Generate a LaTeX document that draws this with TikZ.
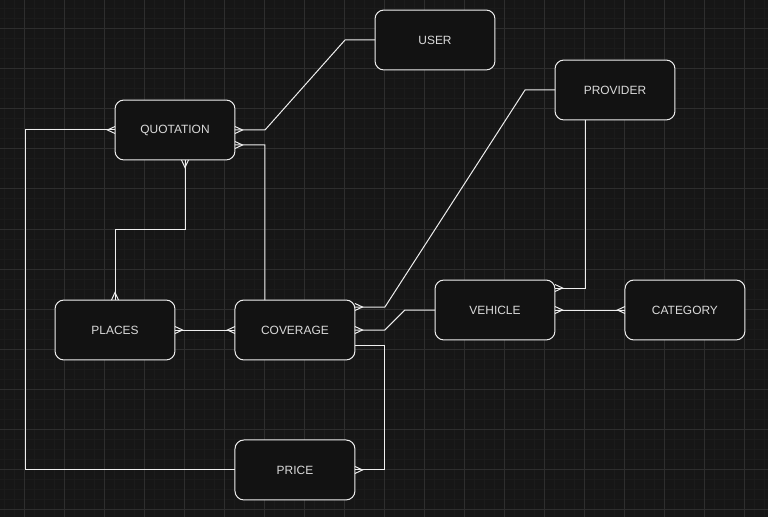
\documentclass[tikz,border=0pt]{standalone}
\usepackage{fontspec}
\setmainfont{Liberation Sans}
\usetikzlibrary{positioning, calc, arrows.meta}
\definecolor{canvas}{RGB}{22,22,22}
\definecolor{minorcol}{RGB}{27,27,27}
\definecolor{majorcol}{RGB}{46,46,46}
\definecolor{boxfill}{RGB}{18,18,18}
\definecolor{boxline}{RGB}{238,238,238}
\definecolor{boxtext}{RGB}{218,218,218}
% crow's foot for the "many" side of a relation
\pgfdeclarearrow{
  name = crow,
  setup code = {
    \pgfarrowssettipend{0pt}
    \pgfarrowssetlineend{0pt}
    \pgfarrowssetbackend{-\pgfarrowlength}
    \pgfarrowssetvisualbackend{-\pgfarrowlength}
    \pgfarrowssavethe\pgfarrowlength
    \pgfarrowssavethe\pgfarrowwidth
  },
  drawing code = {
    \pgfpathmoveto{\pgfqpoint{0pt}{.5\pgfarrowwidth}}
    \pgfpathlineto{\pgfqpoint{-\pgfarrowlength}{0pt}}
    \pgfpathlineto{\pgfqpoint{0pt}{-.5\pgfarrowwidth}}
    \pgfusepathqstroke
  },
  parameters = {\the\pgfarrowlength,\the\pgfarrowwidth},
  defaults = {length=4.3pt, width=4pt}
}
\tikzset{
entity/.style={rectangle, rounded corners=0.18cm, draw=boxline, fill=boxfill, line width=0.02cm, minimum width=2.4cm, minimum height=1.2cm, inner sep=0pt, outer sep=0pt, text=boxtext, font=\fontsize{6.8}{8}\selectfont}, % one table
link/.style={draw=boxline, line width=0.02cm}, % relation lines
minorgrid/.style={minorcol, line width=0.02cm},
majorgrid/.style={majorcol, line width=0.02cm},
}
\begin{document}
\begin{tikzpicture}[x=0.02cm, y=-0.02cm]
        % canvas and grid
        \fill[canvas] (0,0) rectangle (768,517);
        \useasboundingbox (0,0) rectangle (768,517);
        \foreach \x in {4,14,...,764} \draw[minorgrid] (\x,0) -- (\x,517);
        \foreach \y in {9,19,...,509} \draw[minorgrid] (0,\y) -- (768,\y);
        \foreach \x in {24,64,...,744} \draw[majorgrid] (\x,0) -- (\x,517);
        \foreach \y in {29,69,...,509} \draw[majorgrid] (0,\y) -- (768,\y);

        \node[entity] (quotation) at (175,130) {QUOTATION};
        \node[entity] (user) at (435,40) {USER};
        \node[entity] (provider) at (615,90) {PROVIDER};
        \node[entity] (places) at (115,330) {PLACES};
        \node[entity, right=1.2cm of places] (coverage) {COVERAGE};
        \node[entity, below=1.6cm of coverage] (price) {PRICE};
        \node[entity] (vehicle) at (495,310) {VEHICLE};
        \node[entity, right=1.4cm of vehicle] (category) {CATEGORY};

        \draw[link, {crow}-] (quotation.east) -- ++(30,0) -- ++(80,-90) -- (user.west);
        \draw[link, {crow}-] ($(quotation.east)+(0,15)$) -- ++(30,0) -- ($(coverage.north west)+(30,0)$);
        \draw[link, {crow}-] (quotation.west) -- ++(-90,0) |- (price.west);
        \draw[link, {crow}-{crow}] ($(quotation.south)+(10,0)$) -- ++(0,70) -| (places.north);
        \draw[link, {crow}-{crow}] (places) -- (coverage);
        \draw[link, {crow}-] ($(coverage.east)+(0,-23)$) -- ++(30,0) -- ($(provider.west)+(-30,0)$) -- (provider.west);
        \draw[link, {crow}-] (coverage.east) -- ++(30,0) -- ++(20,-20) -- (vehicle.west);
        \draw[link, -{crow}] ($(coverage.east)+(0,15)$) -- ++(30,0) |- (price.east);
        \draw[link, -{crow}] ($(provider.south)+(-30,0)$) |- ($(vehicle.east)+(0,-22)$);
        \draw[link, {crow}-{crow}] (vehicle) -- (category);
\end{tikzpicture}
\end{document}
